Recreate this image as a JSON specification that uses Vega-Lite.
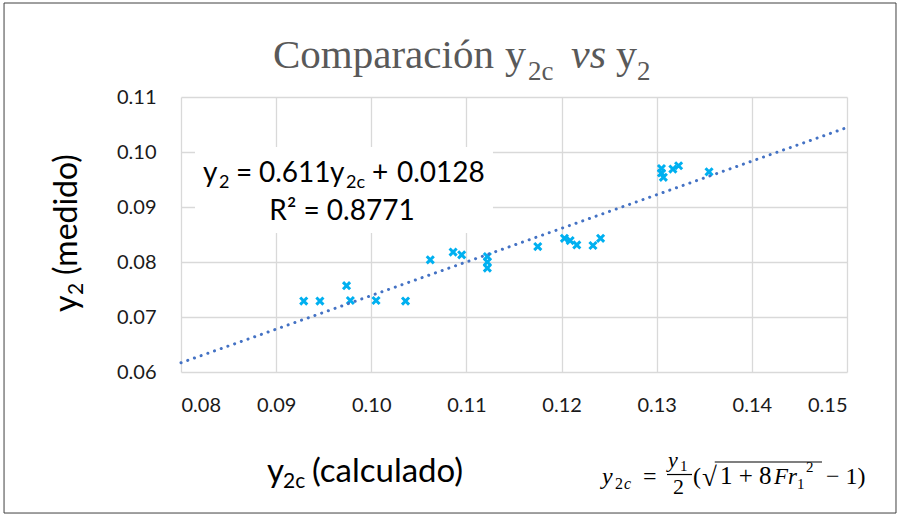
{
  "$schema": "https://vega.github.io/schema/vega-lite/v6.json",
  "width": 666,
  "height": 275,
  "autosize": "none",
  "padding": {"left": 181, "top": 97, "right": 53, "bottom": 143},
  "background": "white",
  "config": {
    "view": {"stroke": null},
    "text": {"font": "Lato", "color": "#000000"}
  },
  "data": {
    "values": [
      {"y2c": 0.0929, "y2": 0.0729},
      {"y2c": 0.0946, "y2": 0.0729},
      {"y2c": 0.0974, "y2": 0.0757},
      {"y2c": 0.0978, "y2": 0.0730},
      {"y2c": 0.1005, "y2": 0.0730},
      {"y2c": 0.1036, "y2": 0.0729},
      {"y2c": 0.1062, "y2": 0.0804},
      {"y2c": 0.1086, "y2": 0.0818},
      {"y2c": 0.1095, "y2": 0.0813},
      {"y2c": 0.1122, "y2": 0.0810},
      {"y2c": 0.1122, "y2": 0.0800},
      {"y2c": 0.1122, "y2": 0.0789},
      {"y2c": 0.1175, "y2": 0.0828},
      {"y2c": 0.1203, "y2": 0.0843},
      {"y2c": 0.1209, "y2": 0.0839},
      {"y2c": 0.1216, "y2": 0.0831},
      {"y2c": 0.1233, "y2": 0.0830},
      {"y2c": 0.1241, "y2": 0.0843},
      {"y2c": 0.1305, "y2": 0.0970},
      {"y2c": 0.1305, "y2": 0.0962},
      {"y2c": 0.1307, "y2": 0.0954},
      {"y2c": 0.1317, "y2": 0.0969},
      {"y2c": 0.1323, "y2": 0.0975},
      {"y2c": 0.1355, "y2": 0.0964}
    ]
  },
  "layer": [
    {
      "mark": {
        "type": "point",
        "shape": "M-1,-1L1,1M1,-1L-1,1",
        "filled": false,
        "size": 50,
        "strokeWidth": 3,
        "color": "#00B0F0",
        "opacity": 1
      },
      "encoding": {
        "x": {
          "field": "y2c",
          "type": "quantitative",
          "title": null,
          "scale": {"domain": [0.08, 0.15], "nice": false, "zero": false},
          "axis": {
            "title": null,
            "values": [0.08, 0.09, 0.1, 0.11, 0.12, 0.13, 0.14, 0.15],
            "format": ".2f",
            "grid": true,
            "gridColor": "#D9D9D9",
            "gridWidth": 1.3,
            "domain": false,
            "ticks": false,
            "labelFont": "Lato",
            "labelFontSize": 20,
            "labelColor": "#1a1a1a",
            "labelPadding": 23
          }
        },
        "y": {
          "field": "y2",
          "type": "quantitative",
          "title": null,
          "scale": {"domain": [0.06, 0.11], "nice": false, "zero": false},
          "axis": {
            "title": null,
            "values": [0.06, 0.07, 0.08, 0.09, 0.1, 0.11],
            "format": ".2f",
            "grid": true,
            "gridColor": "#D9D9D9",
            "gridWidth": 1.3,
            "domain": false,
            "ticks": false,
            "labelFont": "Lato",
            "labelFontSize": 20,
            "labelColor": "#1a1a1a",
            "labelPadding": 25
          }
        }
      }
    },
    {
      "data": {"values": [{"y2c": 0.08, "y2": 0.06168}, {"y2c": 0.15, "y2": 0.10445}]},
      "mark": {
        "type": "line",
        "color": "#4472C4",
        "strokeWidth": 3,
        "strokeCap": "round",
        "strokeDash": [0.1, 7]
      },
      "encoding": {
        "x": {"field": "y2c", "type": "quantitative"},
        "y": {"field": "y2", "type": "quantitative"}
      }
    },
    {
      "data": {"values": [{}]},
      "layer": [
        {
          "mark": {"type": "rect", "fill": null, "stroke": "#404040", "strokeWidth": 1},
          "encoding": {
            "x": {"datum": 0.0614, "type": "quantitative"},
            "x2": {"datum": 0.15515},
            "y": {"datum": 0.12709, "type": "quantitative"},
            "y2": {"datum": 0.03436}
          }
        },
        {
          "mark": {"type": "rect", "fill": "white", "stroke": null},
          "encoding": {
            "x": {"datum": 0.08147, "type": "quantitative"},
            "x2": {"datum": 0.11279},
            "y": {"datum": 0.10091, "type": "quantitative"},
            "y2": {"datum": 0.08527}
          }
        },
        {"mark": {"type": "text", "text": "y", "fontSize": 28, "align": "left", "baseline": "alphabetic"},
         "encoding": {"x": {"datum": 0.08231, "type": "quantitative"}, "y": {"datum": 0.09455, "type": "quantitative"}}},
        {"mark": {"type": "text", "text": "2", "fontSize": 18, "align": "left", "baseline": "alphabetic"},
         "encoding": {"x": {"datum": 0.08399, "type": "quantitative"}, "y": {"datum": 0.09345, "type": "quantitative"}}},
        {"mark": {"type": "text", "text": "=", "fontSize": 28, "align": "left", "baseline": "alphabetic"},
         "encoding": {"x": {"datum": 0.08578, "type": "quantitative"}, "y": {"datum": 0.09455, "type": "quantitative"}}},
        {"mark": {"type": "text", "text": "0.611", "fontSize": 28, "align": "left", "baseline": "alphabetic"},
         "encoding": {"x": {"datum": 0.0882, "type": "quantitative"}, "y": {"datum": 0.09455, "type": "quantitative"}}},
        {"mark": {"type": "text", "text": "y", "fontSize": 28, "align": "left", "baseline": "alphabetic"},
         "encoding": {"x": {"datum": 0.09566, "type": "quantitative"}, "y": {"datum": 0.09455, "type": "quantitative"}}},
        {"mark": {"type": "text", "text": "2c", "fontSize": 18, "align": "left", "baseline": "alphabetic"},
         "encoding": {"x": {"datum": 0.09734, "type": "quantitative"}, "y": {"datum": 0.09345, "type": "quantitative"}}},
        {"mark": {"type": "text", "text": "+", "fontSize": 28, "align": "left", "baseline": "alphabetic"},
         "encoding": {"x": {"datum": 0.10008, "type": "quantitative"}, "y": {"datum": 0.09455, "type": "quantitative"}}},
        {"mark": {"type": "text", "text": "0.0128", "fontSize": 28, "align": "left", "baseline": "alphabetic"},
         "encoding": {"x": {"datum": 0.1027, "type": "quantitative"}, "y": {"datum": 0.09455, "type": "quantitative"}}},
        {"mark": {"type": "text", "text": "R² = 0.8771", "fontSize": 28, "align": "center", "baseline": "alphabetic"},
         "encoding": {"x": {"datum": 0.09692, "type": "quantitative"}, "y": {"datum": 0.08764, "type": "quantitative"}}},

        {"mark": {"type": "text", "text": "Comparación", "font": "Liberation Serif", "fontSize": 41, "color": "#595959", "align": "left", "baseline": "alphabetic"},
         "encoding": {"x": {"datum": 0.08967, "type": "quantitative"}, "y": {"datum": 0.11527, "type": "quantitative"}}},
        {"mark": {"type": "text", "text": "y", "font": "Liberation Serif", "fontSize": 42, "color": "#595959", "align": "left", "baseline": "alphabetic"},
         "encoding": {"x": {"datum": 0.11405, "type": "quantitative"}, "y": {"datum": 0.11527, "type": "quantitative"}}},
        {"mark": {"type": "text", "text": "2c", "font": "Liberation Serif", "fontSize": 27, "color": "#595959", "align": "left", "baseline": "alphabetic"},
         "encoding": {"x": {"datum": 0.11647, "type": "quantitative"}, "y": {"datum": 0.11309, "type": "quantitative"}}},
        {"mark": {"type": "text", "text": "vs", "font": "Liberation Serif", "fontStyle": "italic", "fontSize": 42, "color": "#595959", "align": "left", "baseline": "alphabetic"},
         "encoding": {"x": {"datum": 0.12099, "type": "quantitative"}, "y": {"datum": 0.11527, "type": "quantitative"}}},
        {"mark": {"type": "text", "text": "y", "font": "Liberation Serif", "fontSize": 42, "color": "#595959", "align": "left", "baseline": "alphabetic"},
         "encoding": {"x": {"datum": 0.12572, "type": "quantitative"}, "y": {"datum": 0.11527, "type": "quantitative"}}},
        {"mark": {"type": "text", "text": "2", "font": "Liberation Serif", "fontSize": 27, "color": "#595959", "align": "left", "baseline": "alphabetic"},
         "encoding": {"x": {"datum": 0.12793, "type": "quantitative"}, "y": {"datum": 0.11309, "type": "quantitative"}}},

        {"mark": {"type": "text", "text": "y", "fontSize": 33, "align": "left", "baseline": "alphabetic"},
         "encoding": {"x": {"datum": 0.08904, "type": "quantitative"}, "y": {"datum": 0.04, "type": "quantitative"}}},
        {"mark": {"type": "text", "text": "2c", "fontSize": 21, "align": "left", "baseline": "alphabetic"},
         "encoding": {"x": {"datum": 0.09072, "type": "quantitative"}, "y": {"datum": 0.03891, "type": "quantitative"}}},
        {"mark": {"type": "text", "text": "(calculado)", "fontSize": 33, "align": "left", "baseline": "alphabetic"},
         "encoding": {"x": {"datum": 0.09377, "type": "quantitative"}, "y": {"datum": 0.04, "type": "quantitative"}}},
        {"mark": {"type": "text", "text": "y", "fontSize": 32, "angle": 270, "align": "left", "baseline": "alphabetic"},
         "encoding": {"x": {"datum": 0.06907, "type": "quantitative"}, "y": {"datum": 0.07091, "type": "quantitative"}}},
        {"mark": {"type": "text", "text": "2", "fontSize": 21, "angle": 270, "align": "left", "baseline": "alphabetic"},
         "encoding": {"x": {"datum": 0.0697, "type": "quantitative"}, "y": {"datum": 0.07400, "type": "quantitative"}}},
        {"mark": {"type": "text", "text": "(medido)", "fontSize": 32, "angle": 270, "align": "left", "baseline": "alphabetic"},
         "encoding": {"x": {"datum": 0.06907, "type": "quantitative"}, "y": {"datum": 0.07764, "type": "quantitative"}}},

        {"mark": {"type": "text", "text": "y", "font": "Liberation Serif", "fontStyle": "italic", "fontSize": 24, "align": "left", "baseline": "alphabetic"},
         "encoding": {"x": {"datum": 0.12425, "type": "quantitative"}, "y": {"datum": 0.03964, "type": "quantitative"}}},
        {"mark": {"type": "text", "text": "2", "font": "Liberation Serif", "fontSize": 16, "align": "left", "baseline": "alphabetic"},
         "encoding": {"x": {"datum": 0.12562, "type": "quantitative"}, "y": {"datum": 0.03873, "type": "quantitative"}}},
        {"mark": {"type": "text", "text": "c", "font": "Liberation Serif", "fontStyle": "italic", "fontSize": 16, "align": "left", "baseline": "alphabetic"},
         "encoding": {"x": {"datum": 0.12656, "type": "quantitative"}, "y": {"datum": 0.03873, "type": "quantitative"}}},
        {"mark": {"type": "text", "text": "=", "font": "Liberation Serif", "fontSize": 24, "align": "left", "baseline": "alphabetic"},
         "encoding": {"x": {"datum": 0.12856, "type": "quantitative"}, "y": {"datum": 0.03964, "type": "quantitative"}}},
        {"mark": {"type": "text", "text": "y", "font": "Liberation Serif", "fontStyle": "italic", "fontSize": 22, "align": "left", "baseline": "alphabetic"},
         "encoding": {"x": {"datum": 0.13119, "type": "quantitative"}, "y": {"datum": 0.04273, "type": "quantitative"}}},
        {"mark": {"type": "text", "text": "1", "font": "Liberation Serif", "fontSize": 15, "align": "left", "baseline": "alphabetic"},
         "encoding": {"x": {"datum": 0.13245, "type": "quantitative"}, "y": {"datum": 0.042, "type": "quantitative"}}},
        {"mark": {"type": "rule", "color": "#000000", "strokeWidth": 1.2},
         "encoding": {"x": {"datum": 0.13108, "type": "quantitative"}, "x2": {"datum": 0.13371}, "y": {"datum": 0.04136, "type": "quantitative"}}},
        {"mark": {"type": "text", "text": "2", "font": "Liberation Serif", "fontSize": 22, "align": "left", "baseline": "alphabetic"},
         "encoding": {"x": {"datum": 0.13171, "type": "quantitative"}, "y": {"datum": 0.03782, "type": "quantitative"}}},
        {"mark": {"type": "text", "text": "(", "font": "Liberation Serif", "fontSize": 24, "align": "left", "baseline": "alphabetic"},
         "encoding": {"x": {"datum": 0.13381, "type": "quantitative"}, "y": {"datum": 0.03964, "type": "quantitative"}}},
        {"mark": {"type": "text", "text": "√", "font": "Liberation Serif", "fontSize": 27, "align": "left", "baseline": "alphabetic"},
         "encoding": {"x": {"datum": 0.13476, "type": "quantitative"}, "y": {"datum": 0.03927, "type": "quantitative"}}},
        {"mark": {"type": "rule", "color": "#000000", "strokeWidth": 1.2},
         "encoding": {"x": {"datum": 0.1361, "type": "quantitative"}, "x2": {"datum": 0.14737}, "y": {"datum": 0.04364, "type": "quantitative"}}},
        {"mark": {"type": "text", "text": "1 + 8", "font": "Liberation Serif", "fontSize": 25, "align": "left", "baseline": "alphabetic"},
         "encoding": {"x": {"datum": 0.13665, "type": "quantitative"}, "y": {"datum": 0.03964, "type": "quantitative"}}},
        {"mark": {"type": "text", "text": "Fr", "font": "Liberation Serif", "fontStyle": "italic", "fontSize": 23, "align": "left", "baseline": "alphabetic"},
         "encoding": {"x": {"datum": 0.14233, "type": "quantitative"}, "y": {"datum": 0.03964, "type": "quantitative"}}},
        {"mark": {"type": "text", "text": "1", "font": "Liberation Serif", "fontSize": 15, "align": "left", "baseline": "alphabetic"},
         "encoding": {"x": {"datum": 0.14475, "type": "quantitative"}, "y": {"datum": 0.03873, "type": "quantitative"}}},
        {"mark": {"type": "text", "text": "2", "font": "Liberation Serif", "fontSize": 15, "align": "left", "baseline": "alphabetic"},
         "encoding": {"x": {"datum": 0.1457, "type": "quantitative"}, "y": {"datum": 0.04182, "type": "quantitative"}}},
        {"mark": {"type": "text", "text": "− 1)", "font": "Liberation Serif", "fontSize": 24, "align": "left", "baseline": "alphabetic"},
         "encoding": {"x": {"datum": 0.14779, "type": "quantitative"}, "y": {"datum": 0.03964, "type": "quantitative"}}}
      ]
    }
  ]
}
